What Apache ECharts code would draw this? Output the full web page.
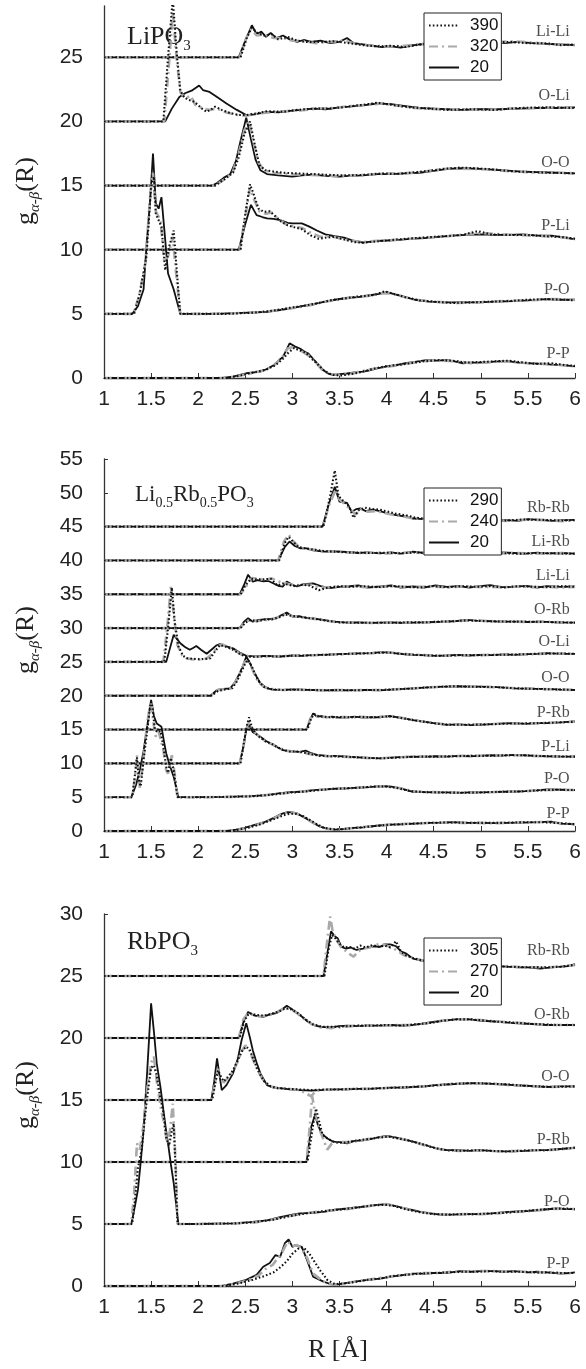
<!DOCTYPE html>
<html><head><meta charset="utf-8">
<script src="https://cdn.jsdelivr.net/npm/echarts@6/dist/echarts.min.js"></script>
<style>html,body{margin:0;padding:0;background:#fff}#c{width:586px;height:1369px}</style>
</head><body><div id="c"></div>
<script>
// ---------------- axes / ticks ----------------
const xTicks = [1,1.5,2,2.5,3,3.5,4,4.5,5,5.5,6];
const yTicksLiPO3 = [0,5,10,15,20,25];
const yTicksMixed = [0,5,10,15,20,25,30,35,40,45,50,55];
const yTicksRbPO3 = [0,5,10,15,20,25,30];

// ---------------- Panel 1: LiPO3 ----------------
const LiPO3_pairs = ['Li-Li','O-Li','O-O','P-Li','P-O','P-P'];
const LiPO3_temps = ['390','320','20'];
const LiPO3_labelY = [27.0,22.0,16.8,11.9,6.9,1.9];

const LiPO3_LiLi_390 = [[1,25],[2.45,25],[2.52,26.6],[2.57,27.3],[2.63,26.9],[2.7,26.7],[2.78,26.8],[2.85,26.4],[2.95,26.6],[3.05,26.3],[3.15,26.2],[3.3,26.2],[3.45,26.25],[3.6,26.1],[3.75,25.95],[3.9,25.85],[4.05,25.9],[4.2,25.8],[4.35,26.0],[4.55,26.15],[4.8,26.05],[5.05,26.15],[5.3,26.2],[5.5,26.1],[5.7,26.1],[5.85,25.95],[6,26.0]];
const LiPO3_LiLi_320 = [[1,25],[2.44,25],[2.51,26.5],[2.56,27.2],[2.62,26.7],[2.7,26.8],[2.8,26.5],[2.9,26.5],[3.0,26.3],[3.12,26.25],[3.25,26.1],[3.4,26.2],[3.55,26.3],[3.7,26.0],[3.85,25.9],[4.0,25.85],[4.2,25.9],[4.4,26.05],[4.6,26.1],[4.85,26.0],[5.1,26.15],[5.35,26.25],[5.55,26.15],[5.75,26.0],[6,25.95]];
const LiPO3_LiLi_20 = [[1,25],[2.43,25],[2.5,26.3],[2.57,27.5],[2.62,26.8],[2.67,27.0],[2.72,26.6],[2.77,26.9],[2.83,26.5],[2.9,26.7],[2.97,26.4],[3.05,26.2],[3.12,26.35],[3.2,26.2],[3.3,26.3],[3.4,26.1],[3.5,26.2],[3.58,26.5],[3.65,26.1],[3.75,26.0],[3.85,25.9],[3.95,25.8],[4.05,25.85],[4.15,25.75],[4.25,25.9],[4.35,26.0],[4.5,26.1],[4.7,26.0],[4.9,26.1],[5.1,26.2],[5.25,26.1],[5.4,26.2],[5.55,26.1],[5.7,26.05],[5.85,26.0],[6,25.95]];

const LiPO3_OLi_390 = [[1,20],[1.63,20],[1.68,25],[1.73,29.6],[1.77,25.5],[1.81,22.4],[1.85,21.9],[1.89,21.7],[1.94,21.6],[1.98,21.4],[2.04,21.0],[2.09,20.75],[2.14,20.95],[2.18,21.15],[2.25,20.9],[2.34,20.65],[2.43,20.5],[2.51,20.5],[2.6,20.6],[2.73,20.8],[2.9,20.75],[3.05,20.9],[3.22,21.0],[3.4,21.0],[3.58,21.15],[3.75,21.3],[3.9,21.45],[4.05,21.3],[4.25,21.1],[4.45,21.0],[4.65,20.9],[4.9,20.95],[5.15,20.9],[5.4,21.05],[5.7,21.1],[6,21.05]];
const LiPO3_OLi_320 = [[1,20],[1.64,20],[1.69,24.5],[1.73,28.5],[1.77,25],[1.81,22.3],[1.86,21.8],[1.92,22.0],[1.97,21.3],[2.05,21.0],[2.12,20.9],[2.2,21.0],[2.3,20.7],[2.42,20.5],[2.51,20.45],[2.62,20.6],[2.75,20.7],[2.9,20.8],[3.08,20.85],[3.25,21.0],[3.45,21.05],[3.62,21.2],[3.8,21.3],[3.95,21.4],[4.1,21.25],[4.3,21.05],[4.55,20.95],[4.8,20.95],[5.05,20.9],[5.3,21.0],[5.6,21.05],[5.85,21.1],[6,21.05]];
const LiPO3_OLi_20 = [[1,20],[1.65,20],[1.72,21.0],[1.8,21.9],[1.86,22.2],[1.93,22.4],[2.01,22.8],[2.05,22.45],[2.12,22.3],[2.2,21.9],[2.3,21.4],[2.41,20.9],[2.51,20.5],[2.6,20.55],[2.73,20.75],[2.85,20.7],[3.0,20.85],[3.1,20.9],[3.22,21.0],[3.35,20.95],[3.5,21.1],[3.6,21.15],[3.75,21.25],[3.9,21.4],[4.05,21.35],[4.2,21.2],[4.35,21.05],[4.5,21.0],[4.65,20.95],[4.8,20.9],[5.0,20.95],[5.2,20.95],[5.4,21.0],[5.6,21.05],[5.8,21.05],[6,21.1]];

const LiPO3_OO_390 = [[1,15],[2.18,15],[2.24,15.3],[2.3,15.6],[2.37,16.0],[2.43,17.2],[2.49,19.0],[2.55,20.0],[2.6,18.2],[2.65,16.6],[2.71,16.2],[2.8,16.1],[2.9,16.0],[3.05,15.95],[3.2,15.9],[3.35,15.85],[3.5,15.8],[3.65,15.8],[3.8,15.85],[3.95,15.95],[4.1,15.9],[4.25,16.0],[4.45,16.15],[4.6,16.3],[4.78,16.4],[4.95,16.35],[5.15,16.25],[5.35,16.1],[5.55,16.05],[5.75,16.0],[6,15.95]];
const LiPO3_OO_320 = [[1,15],[2.17,15],[2.23,15.25],[2.3,15.6],[2.37,16.1],[2.43,17.5],[2.49,19.3],[2.54,20.0],[2.59,18.3],[2.64,16.8],[2.7,16.2],[2.8,16.0],[2.95,15.9],[3.1,15.85],[3.3,15.8],[3.5,15.75],[3.7,15.8],[3.9,15.9],[4.1,15.95],[4.3,16.0],[4.5,16.2],[4.7,16.35],[4.9,16.3],[5.1,16.25],[5.35,16.1],[5.6,16.0],[5.85,16.0],[6,15.95]];
const LiPO3_OO_20 = [[1,15],[2.15,15],[2.2,15.2],[2.27,15.6],[2.34,15.9],[2.4,16.9],[2.45,18.5],[2.51,20.3],[2.56,18.6],[2.61,17.0],[2.66,16.2],[2.73,15.9],[2.85,15.8],[3.0,15.7],[3.1,15.8],[3.22,15.85],[3.35,15.75],[3.5,15.7],[3.6,15.75],[3.75,15.8],[3.9,15.9],[4.05,15.9],[4.2,15.95],[4.35,16.0],[4.5,16.15],[4.65,16.3],[4.8,16.35],[5.0,16.3],[5.2,16.2],[5.4,16.1],[5.6,16.05],[5.8,16.0],[6,15.95]];

const LiPO3_PLi_390 = [[1,10],[2.45,10],[2.5,12.8],[2.55,15.1],[2.59,14.3],[2.64,13.2],[2.7,12.95],[2.76,13.0],[2.82,12.6],[2.88,12.2],[2.95,11.9],[3.02,11.75],[3.1,11.6],[3.2,11.1],[3.28,10.85],[3.36,10.95],[3.45,11.0],[3.55,10.8],[3.65,10.6],[3.75,10.55],[3.9,10.65],[4.05,10.75],[4.2,10.85],[4.4,10.95],[4.6,11.05],[4.8,11.15],[4.97,11.45],[5.1,11.2],[5.3,11.15],[5.5,11.15],[5.7,11.05],[5.85,11.0],[6,10.85]];
const LiPO3_PLi_320 = [[1,10],[2.44,10],[2.5,12.6],[2.55,14.8],[2.6,13.8],[2.65,13.0],[2.72,12.8],[2.78,12.9],[2.85,12.4],[2.93,12.0],[3.0,11.85],[3.1,11.7],[3.2,11.3],[3.3,11.0],[3.4,11.05],[3.5,10.9],[3.62,10.7],[3.75,10.6],[3.9,10.7],[4.05,10.75],[4.25,10.85],[4.45,10.95],[4.65,11.05],[4.85,11.2],[5.0,11.3],[5.2,11.2],[5.4,11.15],[5.6,11.1],[5.8,11.0],[6,10.85]];
const LiPO3_PLi_20 = [[1,10],[2.43,10],[2.5,12.0],[2.56,13.5],[2.62,12.7],[2.68,12.55],[2.73,12.45],[2.8,12.4],[2.87,12.3],[2.95,12.1],[3.0,12.05],[3.1,12.05],[3.18,11.8],[3.26,11.5],[3.35,11.2],[3.45,11.05],[3.55,10.95],[3.65,10.7],[3.75,10.55],[3.85,10.65],[3.95,10.7],[4.1,10.75],[4.25,10.85],[4.4,10.9],[4.55,11.0],[4.7,11.1],[4.85,11.15],[5.0,11.2],[5.15,11.15],[5.3,11.15],[5.45,11.2],[5.6,11.1],[5.75,11.1],[5.9,10.95],[6,10.8]];

const LiPO3_PO_390 = [[1,5],[1.32,5],[1.38,6.6],[1.45,9.45],[1.5,14.9],[1.53,15.7],[1.55,12.8],[1.61,11.8],[1.65,8.4],[1.69,10.2],[1.74,11.5],[1.78,7.65],[1.81,5],[2.0,5],[2.3,5.0],[2.6,5.1],[2.8,5.25],[2.95,5.45],[3.1,5.6],[3.25,5.8],[3.4,6.05],[3.55,6.2],[3.7,6.35],[3.85,6.45],[3.98,6.75],[4.08,6.55],[4.2,6.3],[4.35,6.05],[4.5,5.95],[4.7,5.85],[4.9,5.9],[5.1,5.95],[5.3,6.0],[5.5,6.1],[5.7,6.15],[5.9,6.1],[6,6.05]];
const LiPO3_PO_320 = [[1,5],[1.31,5],[1.37,6.3],[1.44,9.0],[1.49,14.2],[1.52,16.0],[1.55,13.0],[1.6,12.3],[1.64,9.0],[1.68,9.5],[1.73,11.0],[1.77,7.8],[1.81,5],[2.1,5],[2.4,5.05],[2.7,5.15],[2.9,5.35],[3.05,5.5],[3.2,5.7],[3.35,5.95],[3.5,6.15],[3.65,6.3],[3.8,6.4],[3.95,6.6],[4.05,6.6],[4.15,6.4],[4.3,6.1],[4.5,5.95],[4.75,5.85],[5.0,5.9],[5.25,6.0],[5.5,6.05],[5.75,6.15],[6,6.1]];
const LiPO3_PO_20 = [[1,5],[1.3,5],[1.36,5.6],[1.42,6.9],[1.45,10.2],[1.49,13.9],[1.52,17.5],[1.55,13.6],[1.58,13.2],[1.61,14.1],[1.65,10.75],[1.68,8.15],[1.74,6.9],[1.81,5],[2.0,5],[2.2,5.0],[2.37,5.05],[2.55,5.1],[2.73,5.15],[2.87,5.3],[3.0,5.45],[3.1,5.6],[3.22,5.75],[3.35,5.95],[3.45,6.1],[3.58,6.25],[3.7,6.3],[3.82,6.45],[3.92,6.55],[4.0,6.7],[4.1,6.5],[4.2,6.3],[4.3,6.1],[4.45,5.95],[4.64,5.9],[4.8,5.9],[4.99,5.9],[5.15,5.95],[5.35,6.0],[5.5,6.05],[5.7,6.15],[5.85,6.1],[6,6.1]];

const LiPO3_PP_390 = [[1,0],[2.3,0],[2.45,0.2],[2.6,0.45],[2.72,0.65],[2.82,1.0],[2.9,1.5],[2.96,2.0],[3.02,2.35],[3.08,2.15],[3.14,2.0],[3.2,1.55],[3.27,1.05],[3.34,0.55],[3.42,0.25],[3.52,0.2],[3.62,0.3],[3.72,0.45],[3.85,0.7],[3.98,0.9],[4.1,1.0],[4.25,1.15],[4.4,1.3],[4.55,1.4],[4.7,1.35],[4.85,1.2],[5.0,1.25],[5.15,1.3],[5.3,1.35],[5.45,1.2],[5.6,1.1],[5.75,1.15],[5.9,1.0],[6,0.95]];
const LiPO3_PP_320 = [[1,0],[2.28,0],[2.42,0.15],[2.58,0.4],[2.7,0.6],[2.8,0.95],[2.88,1.5],[2.95,2.3],[3.0,2.4],[3.06,2.2],[3.12,2.0],[3.18,1.7],[3.25,1.2],[3.32,0.6],[3.4,0.3],[3.5,0.25],[3.6,0.3],[3.72,0.5],[3.85,0.7],[3.98,0.85],[4.12,1.0],[4.28,1.2],[4.45,1.35],[4.6,1.35],[4.75,1.3],[4.9,1.15],[5.05,1.2],[5.2,1.3],[5.35,1.25],[5.5,1.15],[5.65,1.1],[5.8,1.05],[6,0.9]];
const LiPO3_PP_20 = [[1,0],[2.25,0],[2.37,0.1],[2.51,0.37],[2.66,0.5],[2.73,0.7],[2.8,1.0],[2.86,1.4],[2.9,1.65],[2.97,2.7],[3.03,2.45],[3.08,2.3],[3.13,2.05],[3.17,1.9],[3.22,1.5],[3.28,1.0],[3.33,0.6],[3.38,0.35],[3.43,0.25],[3.5,0.3],[3.58,0.35],[3.68,0.45],[3.75,0.5],[3.82,0.6],[3.9,0.75],[4.0,0.9],[4.1,1.0],[4.2,1.15],[4.3,1.25],[4.42,1.4],[4.53,1.35],[4.64,1.4],[4.72,1.3],[4.81,1.15],[4.9,1.2],[4.99,1.2],[5.1,1.25],[5.2,1.3],[5.3,1.3],[5.4,1.2],[5.52,1.15],[5.65,1.1],[5.75,1.05],[5.87,1.0],[6,0.9]];

// ---------------- Panel 2: Li0.5Rb0.5PO3 ----------------
const Mixed_pairs = ['Rb-Rb','Li-Rb','Li-Li','O-Rb','O-Li','O-O','P-Rb','P-Li','P-O','P-P'];
const Mixed_temps = ['290','240','20'];
const Mixed_labelY = [47.8,42.75,37.7,32.7,28.0,22.6,17.5,12.5,7.65,2.6];

const Mixed_RbRb_290 = [[1,45],[3.33,45],[3.4,49.5],[3.45,53.3],[3.49,49.5],[3.54,48.8],[3.6,48.0],[3.65,46.3],[3.7,47.4],[3.77,47.8],[3.85,47.6],[3.93,47.5],[4.02,47.2],[4.1,46.9],[4.2,46.7],[4.3,46.35],[4.45,46.1],[4.65,46.05],[4.85,45.95],[5.05,46.0],[5.25,45.9],[5.45,46.05],[5.65,46.0],[5.85,45.9],[6,45.95]];
const Mixed_RbRb_240 = [[1,45],[3.32,45],[3.39,48.2],[3.46,50.5],[3.5,49.0],[3.56,48.3],[3.62,47.5],[3.67,46.8],[3.73,47.6],[3.8,47.2],[3.88,47.3],[3.95,47.1],[4.05,46.8],[4.15,46.6],[4.25,46.3],[4.4,46.15],[4.6,46.0],[4.85,45.95],[5.1,45.9],[5.3,45.85],[5.5,46.05],[5.7,45.95],[5.85,45.8],[6,45.95]];
const Mixed_RbRb_20 = [[1,45],[3.32,45],[3.39,48.5],[3.45,50.9],[3.5,48.7],[3.55,48.6],[3.58,48.5],[3.63,47.2],[3.68,47.6],[3.72,47.7],[3.78,47.3],[3.85,47.5],[3.93,47.3],[4.0,47.0],[4.1,46.7],[4.2,46.5],[4.28,46.2],[4.4,46.1],[4.6,46.0],[4.8,46.0],[5.0,45.95],[5.15,45.9],[5.27,45.95],[5.4,45.85],[5.5,46.1],[5.63,46.0],[5.75,45.85],[5.9,45.95],[6,46.0]];

const Mixed_LiRb_290 = [[1,40],[2.86,40],[2.92,42.6],[2.96,43.5],[3.0,42.9],[3.06,42.0],[3.14,41.8],[3.22,41.6],[3.33,41.4],[3.45,41.3],[3.58,41.2],[3.72,41.15],[3.85,41.1],[4.0,41.15],[4.15,41.05],[4.3,41.2],[4.45,41.05],[4.6,41.1],[4.75,41.0],[4.9,41.1],[5.05,41.05],[5.2,41.1],[5.4,41.0],[5.6,41.1],[5.8,41.05],[6,41.0]];
const Mixed_LiRb_240 = [[1,40],[2.85,40],[2.91,42.8],[2.96,43.8],[3.0,43.0],[3.06,42.1],[3.13,41.7],[3.22,41.6],[3.33,41.35],[3.45,41.3],[3.58,41.2],[3.72,41.1],[3.86,41.15],[4.0,41.05],[4.15,41.1],[4.3,41.2],[4.45,41.0],[4.6,41.1],[4.78,41.0],[4.95,41.1],[5.1,41.0],[5.3,41.1],[5.5,41.05],[5.7,41.0],[5.85,41.1],[6,41.05]];
const Mixed_LiRb_20 = [[1,40],[2.85,40],[2.92,42.0],[2.97,42.8],[3.02,42.2],[3.08,41.8],[3.15,41.8],[3.22,41.5],[3.33,41.3],[3.45,41.35],[3.58,41.25],[3.7,41.1],[3.8,41.2],[3.93,41.05],[4.05,41.2],[4.15,41.0],[4.28,41.3],[4.4,41.1],[4.52,41.0],[4.64,41.05],[4.75,41.15],[4.88,40.95],[4.99,41.1],[5.1,41.05],[5.22,41.2],[5.35,41.1],[5.48,41.0],[5.6,41.15],[5.7,41.05],[5.85,41.1],[6,41.0]];

const Mixed_LiLi_290 = [[1,35],[2.45,35],[2.5,36.3],[2.56,37.3],[2.62,37.2],[2.7,37.2],[2.77,37.3],[2.84,36.3],[2.9,36.6],[2.96,36.4],[3.03,36.2],[3.1,36.4],[3.18,36.3],[3.28,35.6],[3.38,36.0],[3.5,36.2],[3.62,36.1],[3.75,36.2],[3.9,36.05],[4.05,36.2],[4.2,36.1],[4.35,36.0],[4.5,36.2],[4.65,36.05],[4.8,36.2],[4.95,36.1],[5.1,36.2],[5.25,36.0],[5.4,36.2],[5.55,36.1],[5.7,36.05],[5.85,36.2],[6,36.1]];
const Mixed_LiLi_240 = [[1,35],[2.45,35],[2.51,36.2],[2.57,37.4],[2.63,37.3],[2.7,37.1],[2.78,37.35],[2.85,36.9],[2.9,36.7],[2.96,36.5],[3.03,36.3],[3.1,36.4],[3.2,36.4],[3.3,36.0],[3.4,36.05],[3.52,36.15],[3.65,36.2],[3.78,36.05],[3.92,36.1],[4.05,36.2],[4.2,36.05],[4.35,36.1],[4.5,36.15],[4.65,36.0],[4.8,36.15],[4.95,36.1],[5.1,36.1],[5.25,36.05],[5.4,36.15],[5.55,36.05],[5.7,36.1],[5.85,36.0],[6,36.1]];
const Mixed_LiLi_20 = [[1,35],[2.44,35],[2.49,36.5],[2.53,37.9],[2.58,36.85],[2.63,37.1],[2.69,36.9],[2.74,37.0],[2.8,36.6],[2.86,36.2],[2.9,36.15],[2.94,36.9],[3.0,36.4],[3.05,36.15],[3.12,36.5],[3.22,36.6],[3.3,36.2],[3.4,35.9],[3.5,36.1],[3.58,36.15],[3.7,36.3],[3.8,36.0],[3.93,36.15],[4.05,36.3],[4.15,36.0],[4.28,36.15],[4.4,36.0],[4.52,36.3],[4.64,36.1],[4.76,36.2],[4.88,36.0],[4.99,36.2],[5.1,36.35],[5.22,36.05],[5.35,36.1],[5.48,36.25],[5.6,36.0],[5.7,36.2],[5.85,36.1],[6,36.15]];

const Mixed_ORb_290 = [[1,30],[2.45,30],[2.5,30.8],[2.56,31.2],[2.62,31.0],[2.7,31.25],[2.78,31.3],[2.86,31.6],[2.92,32.0],[2.98,31.85],[3.05,31.7],[3.14,31.55],[3.25,31.35],[3.38,31.05],[3.5,30.85],[3.65,30.8],[3.8,30.8],[3.95,30.8],[4.1,30.8],[4.25,30.85],[4.4,30.85],[4.55,30.95],[4.7,31.0],[4.85,31.15],[5.0,31.05],[5.15,31.0],[5.3,30.95],[5.5,30.95],[5.7,30.9],[5.85,30.85],[6,30.8]];
const Mixed_ORb_240 = [[1,30],[2.44,30],[2.5,30.9],[2.56,31.3],[2.62,31.0],[2.7,31.2],[2.78,31.25],[2.86,31.7],[2.93,32.1],[3.0,31.8],[3.08,31.65],[3.16,31.5],[3.27,31.3],[3.4,31.0],[3.55,30.8],[3.7,30.8],[3.85,30.75],[4.0,30.8],[4.15,30.8],[4.3,30.85],[4.45,30.85],[4.6,30.95],[4.75,31.05],[4.88,31.15],[5.0,31.1],[5.15,31.0],[5.3,30.95],[5.5,30.9],[5.7,30.95],[5.85,30.85],[6,30.8]];
const Mixed_ORb_20 = [[1,30],[2.44,30],[2.49,31.0],[2.53,31.45],[2.58,30.95],[2.64,31.2],[2.7,31.3],[2.77,31.35],[2.83,31.45],[2.88,31.9],[2.94,32.3],[3.0,31.7],[3.08,31.75],[3.15,31.5],[3.22,31.45],[3.32,31.2],[3.45,30.95],[3.58,30.8],[3.7,30.85],[3.82,30.75],[3.93,30.8],[4.05,30.85],[4.18,30.75],[4.28,30.8],[4.4,30.85],[4.52,30.9],[4.64,30.95],[4.75,31.05],[4.85,31.2],[4.95,31.1],[5.05,31.05],[5.2,30.95],[5.35,30.95],[5.5,30.9],[5.65,30.95],[5.8,30.85],[6,30.8]];

const Mixed_OLi_290 = [[1,25],[1.64,25],[1.68,30],[1.72,36.0],[1.75,31],[1.79,27.3],[1.84,25.9],[1.88,25.55],[1.95,25.45],[2.02,25.4],[2.08,25.45],[2.13,25.55],[2.18,26.6],[2.23,27.5],[2.3,27.2],[2.37,26.8],[2.44,26.2],[2.5,25.8],[2.6,25.75],[2.73,25.85],[2.87,25.8],[3.0,25.9],[3.15,25.95],[3.3,26.05],[3.45,26.1],[3.6,26.2],[3.75,26.25],[3.9,26.35],[4.02,26.4],[4.15,26.2],[4.3,26.05],[4.45,25.95],[4.6,25.9],[4.8,26.0],[5.0,26.0],[5.2,26.05],[5.4,26.1],[5.6,26.2],[5.8,26.25],[6,26.2]];
const Mixed_OLi_240 = [[1,25],[1.63,25],[1.67,30],[1.71,36.1],[1.74,32],[1.78,27.5],[1.83,26.0],[1.88,25.5],[1.95,25.35],[2.02,25.35],[2.09,25.5],[2.15,26.2],[2.2,27.2],[2.25,27.6],[2.32,27.2],[2.4,26.6],[2.47,26.0],[2.55,25.8],[2.65,25.8],[2.8,25.8],[2.95,25.9],[3.1,25.95],[3.25,26.0],[3.4,26.1],[3.55,26.15],[3.7,26.25],[3.85,26.3],[4.0,26.4],[4.12,26.3],[4.25,26.1],[4.4,26.0],[4.55,25.9],[4.75,25.95],[4.95,26.0],[5.15,26.05],[5.35,26.1],[5.55,26.15],[5.75,26.25],[6,26.2]];
const Mixed_OLi_20 = [[1,25],[1.66,25],[1.7,27.0],[1.74,29.0],[1.78,28.3],[1.81,27.75],[1.86,27.2],[1.91,26.8],[1.95,27.1],[1.98,27.35],[2.03,26.8],[2.09,26.2],[2.14,26.8],[2.19,27.4],[2.23,27.65],[2.3,27.3],[2.37,27.0],[2.44,26.4],[2.51,25.9],[2.6,25.85],[2.73,25.9],[2.87,25.8],[3.0,25.95],[3.1,25.9],[3.22,26.05],[3.35,26.05],[3.45,26.15],[3.58,26.2],[3.7,26.25],[3.82,26.3],[3.92,26.4],[4.0,26.4],[4.1,26.25],[4.2,26.1],[4.28,26.05],[4.4,26.0],[4.52,25.9],[4.64,25.95],[4.76,26.05],[4.88,25.95],[4.99,26.05],[5.12,26.0],[5.25,26.1],[5.35,26.05],[5.5,26.15],[5.6,26.2],[5.7,26.3],[5.85,26.2],[6,26.2]];

const Mixed_OO_290 = [[1,20],[2.14,20],[2.21,20.7],[2.29,20.95],[2.36,21.1],[2.41,22.1],[2.46,23.6],[2.5,24.8],[2.53,25.3],[2.57,24.3],[2.61,23.0],[2.65,22.0],[2.7,21.3],[2.78,20.95],[2.9,20.85],[3.05,20.9],[3.2,20.85],[3.35,20.8],[3.5,20.85],[3.65,20.8],[3.8,20.85],[3.95,20.85],[4.1,20.95],[4.25,21.05],[4.4,21.2],[4.55,21.3],[4.7,21.4],[4.85,21.35],[5.0,21.3],[5.15,21.3],[5.3,21.15],[5.45,21.05],[5.6,21.0],[5.75,20.95],[5.9,20.9],[6,20.85]];
const Mixed_OO_240 = [[1,20],[2.13,20],[2.2,20.8],[2.28,21.0],[2.35,21.1],[2.4,22.1],[2.45,23.5],[2.49,24.9],[2.52,25.4],[2.56,24.4],[2.6,23.1],[2.64,22.0],[2.7,21.3],[2.78,21.0],[2.9,20.85],[3.05,20.9],[3.2,20.85],[3.35,20.8],[3.5,20.85],[3.65,20.8],[3.8,20.85],[3.95,20.85],[4.1,20.95],[4.25,21.05],[4.4,21.2],[4.55,21.3],[4.7,21.4],[4.85,21.35],[5.0,21.35],[5.15,21.25],[5.3,21.15],[5.45,21.1],[5.6,21.0],[5.75,20.95],[5.9,20.9],[6,20.85]];
const Mixed_OO_20 = [[1,20],[2.13,20],[2.2,20.85],[2.27,21.0],[2.34,21.1],[2.39,22.0],[2.44,23.3],[2.48,24.6],[2.51,25.8],[2.55,24.8],[2.58,23.8],[2.62,22.8],[2.66,21.85],[2.73,21.1],[2.8,20.9],[2.9,20.85],[3.0,20.95],[3.1,20.9],[3.22,20.85],[3.35,20.8],[3.45,20.85],[3.58,20.8],[3.7,20.85],[3.82,20.85],[3.93,20.8],[4.05,20.9],[4.18,21.0],[4.28,21.1],[4.4,21.2],[4.52,21.3],[4.64,21.35],[4.76,21.4],[4.88,21.35],[4.99,21.35],[5.12,21.3],[5.25,21.2],[5.35,21.1],[5.5,21.05],[5.6,21.0],[5.7,21.0],[5.85,20.9],[6,20.85]];

const Mixed_PRb_290 = [[1,15],[3.16,15],[3.2,16.7],[3.23,17.3],[3.28,16.95],[3.34,16.9],[3.42,16.8],[3.52,16.85],[3.62,16.8],[3.72,16.9],[3.82,16.8],[3.92,16.85],[4.02,16.95],[4.1,16.85],[4.2,16.6],[4.3,16.35],[4.42,16.1],[4.55,15.85],[4.7,15.7],[4.85,15.7],[5.0,15.75],[5.15,15.8],[5.3,15.9],[5.45,15.9],[5.6,15.95],[5.75,16.0],[5.9,16.1],[6,16.15]];
const Mixed_PRb_240 = [[1,15],[3.15,15],[3.19,16.6],[3.23,17.2],[3.28,16.9],[3.35,16.85],[3.45,16.8],[3.55,16.85],[3.65,16.8],[3.75,16.85],[3.85,16.8],[3.95,16.9],[4.05,16.95],[4.15,16.75],[4.25,16.5],[4.35,16.25],[4.48,16.0],[4.62,15.75],[4.78,15.7],[4.92,15.75],[5.08,15.8],[5.22,15.85],[5.38,15.9],[5.52,15.9],[5.68,15.95],[5.82,16.05],[6,16.15]];
const Mixed_PRb_20 = [[1,15],[3.15,15],[3.19,16.5],[3.22,17.4],[3.26,16.9],[3.3,17.0],[3.36,16.8],[3.42,16.9],[3.5,16.75],[3.58,16.8],[3.66,16.9],[3.75,16.75],[3.85,16.85],[3.93,16.8],[4.0,16.95],[4.04,17.0],[4.12,16.8],[4.2,16.6],[4.28,16.4],[4.38,16.2],[4.5,15.95],[4.64,15.7],[4.76,15.75],[4.88,15.65],[4.99,15.7],[5.12,15.8],[5.25,15.9],[5.35,15.95],[5.48,15.85],[5.6,15.95],[5.7,15.95],[5.85,16.05],[6,16.2]];

const Mixed_PLi_290 = [[1,10],[2.45,10],[2.49,13.5],[2.52,15.8],[2.54,16.8],[2.57,15.3],[2.61,14.4],[2.66,13.8],[2.72,13.2],[2.78,12.9],[2.84,12.4],[2.9,12.0],[2.97,11.75],[3.05,11.75],[3.12,11.6],[3.2,11.35],[3.3,11.1],[3.42,11.05],[3.55,11.0],[3.68,10.9],[3.8,10.8],[3.95,10.75],[4.1,10.85],[4.25,10.95],[4.4,11.0],[4.55,11.0],[4.7,11.05],[4.85,11.1],[5.0,11.1],[5.15,11.15],[5.3,11.2],[5.45,11.2],[5.6,11.1],[5.75,11.05],[5.9,11.0],[6,11.0]];
const Mixed_PLi_240 = [[1,10],[2.44,10],[2.49,13.2],[2.52,15.5],[2.54,16.2],[2.58,15.0],[2.62,14.3],[2.67,13.7],[2.73,13.1],[2.8,12.75],[2.87,12.2],[2.94,11.85],[3.02,11.75],[3.1,11.65],[3.18,11.4],[3.28,11.15],[3.4,11.05],[3.52,11.0],[3.65,10.9],[3.78,10.8],[3.92,10.75],[4.06,10.85],[4.2,10.95],[4.35,11.0],[4.5,11.0],[4.65,11.05],[4.8,11.1],[4.95,11.1],[5.1,11.15],[5.25,11.2],[5.4,11.2],[5.55,11.1],[5.7,11.05],[5.85,11.0],[6,11.0]];
const Mixed_PLi_20 = [[1,10],[2.44,10],[2.48,12.5],[2.51,14.95],[2.54,15.7],[2.58,14.6],[2.62,14.3],[2.66,13.95],[2.72,13.3],[2.8,12.7],[2.85,12.3],[2.9,11.95],[2.96,11.8],[3.02,11.75],[3.08,11.7],[3.14,11.9],[3.2,11.5],[3.26,11.25],[3.35,11.15],[3.45,11.1],[3.58,11.0],[3.7,10.9],[3.82,10.8],[3.93,10.75],[4.05,10.85],[4.18,10.95],[4.28,11.0],[4.4,10.95],[4.52,11.05],[4.64,11.0],[4.76,11.1],[4.88,11.05],[4.99,11.1],[5.1,11.2],[5.22,11.15],[5.35,11.25],[5.45,11.2],[5.58,11.1],[5.7,11.05],[5.85,11.0],[6,11.0]];

const Mixed_PO_290 = [[1,5],[1.3,5],[1.33,8.5],[1.35,10.9],[1.37,7.5],[1.39,6.6],[1.42,10.5],[1.46,15.0],[1.49,18.5],[1.51,18.8],[1.54,15.0],[1.57,14.6],[1.6,14.8],[1.63,12.5],[1.66,9.5],[1.68,8.6],[1.71,10.8],[1.74,9.0],[1.78,5],[2.0,5],[2.35,5.05],[2.6,5.15],[2.8,5.4],[2.95,5.65],[3.1,5.8],[3.25,6.0],[3.4,6.2],[3.55,6.3],[3.7,6.4],[3.85,6.55],[3.98,6.6],[4.1,6.4],[4.25,5.9],[4.4,5.75],[4.6,5.7],[4.8,5.65],[5.0,5.7],[5.2,5.8],[5.4,5.85],[5.6,6.0],[5.8,6.1],[6,6.05]];
const Mixed_PO_240 = [[1,5],[1.3,5],[1.33,8.0],[1.35,11.2],[1.37,7.8],[1.38,6.4],[1.41,9.5],[1.45,14.8],[1.48,18.0],[1.5,19.0],[1.53,15.5],[1.55,13.95],[1.58,14.7],[1.6,14.5],[1.63,12.0],[1.66,9.0],[1.68,8.5],[1.72,11.2],[1.75,8.5],[1.78,5],[2.1,5],[2.4,5.05],[2.65,5.2],[2.85,5.5],[3.0,5.7],[3.15,5.9],[3.3,6.1],[3.45,6.25],[3.6,6.3],[3.75,6.45],[3.9,6.6],[4.02,6.6],[4.15,6.3],[4.3,5.85],[4.45,5.75],[4.65,5.7],[4.85,5.65],[5.05,5.7],[5.25,5.8],[5.45,5.85],[5.65,6.05],[5.85,6.1],[6,6.05]];
const Mixed_PO_20 = [[1,5],[1.29,5],[1.34,6.8],[1.38,9.0],[1.42,11.8],[1.45,14.7],[1.48,17.5],[1.5,19.4],[1.53,17.0],[1.56,15.9],[1.58,16.0],[1.61,15.4],[1.64,13.0],[1.66,11.5],[1.7,9.6],[1.74,8.0],[1.79,5],[2.0,5],[2.3,5.05],[2.55,5.15],[2.73,5.3],[2.87,5.6],[2.98,5.75],[3.08,5.8],[3.22,6.05],[3.35,6.15],[3.45,6.25],[3.58,6.3],[3.7,6.4],[3.82,6.5],[3.93,6.65],[4.05,6.55],[4.15,6.3],[4.28,5.8],[4.4,5.75],[4.52,5.7],[4.64,5.7],[4.76,5.65],[4.88,5.7],[4.99,5.7],[5.12,5.75],[5.25,5.8],[5.35,5.8],[5.48,5.9],[5.6,6.0],[5.7,6.15],[5.85,6.1],[6,6.05]];

const Mixed_PP_290 = [[1,0],[2.35,0],[2.45,0.25],[2.55,0.55],[2.65,0.95],[2.75,1.45],[2.83,1.9],[2.9,2.3],[2.97,2.55],[3.03,2.55],[3.1,2.3],[3.17,1.75],[3.25,1.1],[3.33,0.5],[3.42,0.25],[3.52,0.25],[3.62,0.4],[3.75,0.55],[3.88,0.75],[4.0,0.9],[4.15,1.0],[4.3,1.1],[4.45,1.2],[4.6,1.25],[4.75,1.25],[4.9,1.2],[5.05,1.2],[5.2,1.2],[5.35,1.25],[5.5,1.3],[5.65,1.3],[5.8,1.2],[6,1.0]];
const Mixed_PP_240 = [[1,0],[2.32,0],[2.42,0.2],[2.52,0.5],[2.62,0.9],[2.72,1.35],[2.8,1.85],[2.88,2.4],[2.94,2.75],[3.0,2.7],[3.06,2.5],[3.12,2.1],[3.2,1.4],[3.28,0.75],[3.36,0.35],[3.45,0.2],[3.55,0.3],[3.68,0.5],[3.8,0.65],[3.92,0.8],[4.05,0.95],[4.2,1.05],[4.35,1.15],[4.5,1.2],[4.65,1.25],[4.8,1.2],[4.95,1.2],[5.1,1.15],[5.25,1.2],[5.4,1.25],[5.55,1.3],[5.7,1.35],[5.85,1.15],[6,1.0]];
const Mixed_PP_20 = [[1,0],[2.3,0],[2.4,0.2],[2.5,0.5],[2.6,0.9],[2.7,1.3],[2.78,1.8],[2.85,2.3],[2.9,2.6],[2.95,2.8],[3.0,2.75],[3.05,2.6],[3.1,2.2],[3.15,1.8],[3.22,1.2],[3.3,0.6],[3.38,0.3],[3.45,0.2],[3.55,0.3],[3.65,0.45],[3.75,0.55],[3.85,0.7],[3.95,0.85],[4.05,0.95],[4.15,1.0],[4.3,1.1],[4.45,1.2],[4.6,1.25],[4.7,1.3],[4.85,1.2],[5.0,1.2],[5.15,1.15],[5.3,1.2],[5.45,1.25],[5.6,1.3],[5.75,1.4],[5.85,1.1],[6,1.0]];

// ---------------- Panel 3: RbPO3 ----------------
const RbPO3_pairs = ['Rb-Rb','O-Rb','O-O','P-Rb','P-O','P-P'];
const RbPO3_temps = ['305','270','20'];
const RbPO3_labelY = [27.0,21.85,16.9,11.8,6.8,1.8];

const RbPO3_RbRb_305 = [[1,25],[3.34,25],[3.38,27.0],[3.42,28.3],[3.46,28.0],[3.5,27.6],[3.55,27.3],[3.6,27.35],[3.66,27.2],[3.72,27.45],[3.78,27.3],[3.85,27.5],[3.92,27.35],[3.98,27.45],[4.04,27.3],[4.1,27.8],[4.15,27.0],[4.2,26.7],[4.26,26.5],[4.35,26.3],[4.5,26.1],[4.7,25.95],[4.9,25.85],[5.1,25.8],[5.3,25.75],[5.5,25.7],[5.7,25.7],[5.85,25.75],[6,25.9]];
const RbPO3_RbRb_270 = [[1,25],[3.33,25],[3.36,27.2],[3.4,29.8],[3.43,28.5],[3.47,27.9],[3.52,27.3],[3.57,27.0],[3.62,26.7],[3.65,26.55],[3.7,27.0],[3.75,27.2],[3.82,27.3],[3.88,27.5],[3.94,27.6],[4.0,27.45],[4.06,27.3],[4.12,27.0],[4.18,26.7],[4.25,26.5],[4.35,26.3],[4.5,26.1],[4.7,25.95],[4.9,25.85],[5.1,25.8],[5.3,25.75],[5.5,25.7],[5.7,25.7],[5.85,25.75],[6,25.9]];
const RbPO3_RbRb_20 = [[1,25],[3.33,25],[3.37,26.8],[3.41,28.6],[3.45,28.2],[3.48,28.05],[3.52,27.35],[3.57,27.2],[3.62,27.3],[3.68,27.1],[3.75,27.2],[3.82,27.35],[3.88,27.4],[3.93,27.35],[3.98,27.55],[4.04,27.55],[4.1,27.4],[4.15,27.0],[4.21,26.8],[4.28,26.4],[4.4,26.2],[4.6,26.0],[4.8,25.9],[5.0,25.8],[5.15,25.8],[5.27,25.75],[5.4,25.7],[5.5,25.7],[5.63,25.6],[5.75,25.7],[5.85,25.75],[5.93,25.8],[6,25.95]];

const RbPO3_ORb_305 = [[1,20],[2.44,20],[2.49,21.4],[2.54,22.0],[2.62,21.85],[2.7,21.8],[2.78,21.95],[2.86,22.15],[2.93,22.4],[2.99,22.3],[3.06,22.0],[3.14,21.5],[3.22,21.1],[3.32,20.9],[3.45,20.9],[3.58,20.95],[3.72,21.0],[3.86,21.0],[4.0,21.05],[4.15,21.0],[4.3,21.1],[4.45,21.2],[4.6,21.4],[4.75,21.5],[4.9,21.5],[5.05,21.4],[5.2,21.3],[5.35,21.25],[5.5,21.15],[5.65,21.1],[5.8,21.05],[6,21.05]];
const RbPO3_ORb_270 = [[1,20],[2.43,20],[2.48,21.5],[2.53,22.0],[2.6,21.8],[2.68,21.75],[2.76,21.85],[2.84,22.1],[2.91,22.4],[2.98,22.35],[3.05,22.0],[3.12,21.55],[3.2,21.15],[3.3,20.85],[3.42,20.8],[3.55,20.9],[3.68,21.0],[3.82,21.0],[3.96,21.0],[4.1,21.05],[4.25,21.05],[4.4,21.15],[4.55,21.35],[4.7,21.5],[4.85,21.5],[5.0,21.45],[5.15,21.35],[5.3,21.25],[5.45,21.2],[5.6,21.1],[5.75,21.05],[6,21.05]];
const RbPO3_ORb_20 = [[1,20],[2.43,20],[2.48,21.3],[2.53,22.1],[2.6,21.8],[2.69,21.7],[2.76,21.9],[2.83,22.0],[2.89,22.3],[2.94,22.6],[3.0,22.3],[3.08,21.85],[3.15,21.4],[3.22,21.05],[3.3,20.9],[3.4,20.85],[3.5,20.95],[3.58,21.0],[3.7,20.95],[3.8,21.0],[3.93,21.0],[4.05,21.05],[4.18,21.0],[4.28,21.05],[4.38,21.15],[4.46,21.25],[4.56,21.35],[4.66,21.45],[4.78,21.55],[4.88,21.5],[4.99,21.4],[5.1,21.35],[5.2,21.3],[5.35,21.2],[5.5,21.15],[5.6,21.1],[5.7,21.05],[5.85,21.05],[6,21.05]];

const RbPO3_OO_305 = [[1,15],[2.15,15],[2.18,16.3],[2.21,17.4],[2.24,16.9],[2.27,16.5],[2.32,16.9],[2.37,17.4],[2.42,18.2],[2.47,19.0],[2.51,19.3],[2.55,19.0],[2.59,18.2],[2.64,17.3],[2.7,16.5],[2.77,16.1],[2.85,15.95],[2.95,15.9],[3.08,15.85],[3.2,15.8],[3.35,15.85],[3.5,15.85],[3.65,15.9],[3.8,15.9],[3.95,15.95],[4.1,16.0],[4.25,16.05],[4.4,16.1],[4.55,16.2],[4.7,16.3],[4.85,16.35],[5.0,16.35],[5.15,16.3],[5.3,16.25],[5.45,16.15],[5.6,16.1],[5.75,16.05],[6,16.1]];
const RbPO3_OO_270 = [[1,15],[2.14,15],[2.18,16.4],[2.21,17.5],[2.24,16.8],[2.27,16.4],[2.32,16.8],[2.37,17.3],[2.42,18.1],[2.46,18.9],[2.5,19.4],[2.54,19.1],[2.58,18.3],[2.63,17.4],[2.69,16.6],[2.76,16.1],[2.85,15.95],[2.95,15.9],[3.08,15.8],[3.2,15.3],[3.25,15.75],[3.38,15.85],[3.52,15.85],[3.66,15.9],[3.8,15.9],[3.95,15.95],[4.1,16.0],[4.25,16.05],[4.4,16.1],[4.55,16.2],[4.7,16.3],[4.85,16.35],[5.0,16.35],[5.15,16.3],[5.3,16.2],[5.45,16.15],[5.6,16.1],[5.75,16.05],[6,16.1]];
const RbPO3_OO_20 = [[1,15],[2.14,15],[2.17,16.5],[2.2,18.35],[2.23,16.8],[2.25,15.8],[2.3,16.2],[2.37,17.15],[2.42,18.3],[2.46,19.8],[2.51,21.2],[2.55,20.0],[2.58,19.0],[2.62,18.0],[2.66,17.15],[2.73,16.2],[2.8,16.0],[2.87,15.95],[2.97,15.85],[3.08,15.8],[3.2,15.75],[3.3,15.8],[3.45,15.85],[3.58,15.85],[3.7,15.9],[3.82,15.9],[3.93,15.95],[4.05,16.0],[4.18,16.0],[4.28,16.05],[4.4,16.1],[4.52,16.2],[4.64,16.25],[4.76,16.3],[4.88,16.35],[4.99,16.35],[5.12,16.3],[5.25,16.25],[5.35,16.2],[5.48,16.15],[5.6,16.1],[5.7,16.05],[5.85,16.1],[6,16.1]];

const RbPO3_PRb_305 = [[1,10],[3.16,10],[3.2,12.0],[3.23,13.5],[3.25,14.3],[3.28,13.4],[3.32,12.2],[3.38,11.85],[3.45,11.6],[3.55,11.55],[3.65,11.7],[3.75,11.8],[3.85,11.9],[3.95,12.0],[4.02,12.05],[4.12,11.9],[4.22,11.75],[4.32,11.55],[4.42,11.35],[4.52,11.1],[4.65,10.95],[4.8,10.9],[4.95,10.95],[5.1,10.9],[5.25,10.85],[5.4,10.9],[5.55,10.95],[5.7,10.95],[5.85,11.05],[6,11.15]];
const RbPO3_PRb_270 = [[1,10],[3.15,10],[3.18,12.5],[3.21,15.3],[3.24,14.0],[3.28,12.8],[3.32,12.0],[3.37,11.0],[3.42,11.5],[3.5,11.6],[3.6,11.6],[3.7,11.7],[3.8,11.85],[3.9,11.95],[4.0,12.05],[4.1,11.95],[4.2,11.8],[4.3,11.6],[4.4,11.35],[4.5,11.15],[4.62,10.95],[4.78,10.9],[4.92,10.95],[5.08,10.9],[5.22,10.85],[5.38,10.9],[5.52,10.95],[5.68,10.95],[5.82,11.0],[6,11.15]];
const RbPO3_PRb_20 = [[1,10],[3.15,10],[3.2,12.85],[3.24,13.8],[3.27,13.0],[3.31,12.3],[3.37,11.9],[3.43,11.65],[3.5,11.6],[3.58,11.5],[3.66,11.7],[3.75,11.75],[3.83,11.85],[3.92,12.0],[4.0,12.1],[4.08,12.0],[4.18,11.85],[4.28,11.65],[4.38,11.45],[4.46,11.25],[4.55,11.05],[4.64,10.95],[4.76,10.95],[4.88,10.9],[4.99,10.95],[5.12,10.9],[5.25,10.85],[5.35,10.85],[5.48,10.9],[5.6,10.95],[5.7,10.95],[5.85,11.05],[6,11.15]];

const RbPO3_PO_305 = [[1,5],[1.3,5],[1.33,7.0],[1.36,9.5],[1.4,11.0],[1.44,14.0],[1.48,16.5],[1.5,17.6],[1.53,17.8],[1.56,17.0],[1.59,15.5],[1.63,14.0],[1.66,12.0],[1.69,11.3],[1.72,12.5],[1.74,13.1],[1.76,9.5],[1.78,5],[2.0,5],[2.4,5.05],[2.6,5.15],[2.8,5.35],[2.95,5.6],[3.1,5.8],[3.25,5.95],[3.4,6.1],[3.55,6.2],[3.7,6.35],[3.85,6.5],[3.98,6.55],[4.08,6.45],[4.2,6.2],[4.35,5.95],[4.5,5.8],[4.65,5.75],[4.8,5.8],[4.95,5.8],[5.1,5.85],[5.25,5.9],[5.4,6.0],[5.55,6.1],[5.7,6.2],[5.85,6.25],[6,6.2]];
const RbPO3_PO_270 = [[1,5],[1.29,5],[1.32,7.5],[1.35,11.5],[1.38,11.0],[1.42,13.0],[1.46,16.0],[1.5,18.0],[1.53,18.5],[1.56,16.5],[1.6,14.5],[1.64,13.0],[1.67,11.5],[1.7,12.5],[1.73,14.7],[1.76,10.0],[1.78,5],[2.0,5],[2.4,5.05],[2.62,5.15],[2.82,5.4],[2.98,5.65],[3.12,5.85],[3.28,6.0],[3.42,6.1],[3.58,6.2],[3.72,6.35],[3.86,6.5],[4.0,6.6],[4.1,6.45],[4.22,6.2],[4.38,5.95],[4.52,5.8],[4.68,5.75],[4.85,5.8],[5.0,5.8],[5.15,5.85],[5.3,5.95],[5.45,6.0],[5.6,6.1],[5.75,6.2],[5.9,6.25],[6,6.2]];
const RbPO3_PO_20 = [[1,5],[1.29,5],[1.33,6.5],[1.36,7.75],[1.39,10.0],[1.42,12.6],[1.46,17.5],[1.5,22.8],[1.53,20.5],[1.56,17.95],[1.6,16.0],[1.63,14.2],[1.66,12.5],[1.68,11.5],[1.71,9.8],[1.74,8.3],[1.79,5],[2.0,5],[2.37,5.05],[2.55,5.15],[2.73,5.3],[2.87,5.55],[3.0,5.75],[3.08,5.85],[3.22,5.9],[3.35,6.0],[3.45,6.15],[3.58,6.25],[3.7,6.35],[3.8,6.45],[3.9,6.55],[4.0,6.6],[4.1,6.45],[4.2,6.25],[4.35,6.0],[4.46,5.85],[4.57,5.75],[4.7,5.75],[4.85,5.8],[4.99,5.8],[5.12,5.85],[5.25,5.95],[5.35,6.0],[5.5,6.05],[5.65,6.15],[5.8,6.25],[5.9,6.2],[6,6.2]];

const RbPO3_PP_305 = [[1,0],[2.3,0],[2.45,0.25],[2.58,0.5],[2.7,0.8],[2.8,1.1],[2.87,1.5],[2.94,2.0],[3.0,2.6],[3.06,3.0],[3.12,3.1],[3.18,2.6],[3.24,1.9],[3.3,1.2],[3.37,0.5],[3.45,0.15],[3.55,0.2],[3.68,0.35],[3.8,0.5],[3.93,0.6],[4.06,0.8],[4.2,0.9],[4.35,1.0],[4.5,1.05],[4.65,1.1],[4.8,1.15],[4.95,1.15],[5.1,1.2],[5.25,1.15],[5.4,1.15],[5.55,1.1],[5.7,1.1],[5.85,1.05],[6,1.05]];
const RbPO3_PP_270 = [[1,0],[2.27,0],[2.4,0.2],[2.53,0.45],[2.64,0.85],[2.72,1.4],[2.79,1.7],[2.84,2.2],[2.89,2.7],[2.95,3.6],[3.0,3.2],[3.05,3.3],[3.1,3.0],[3.16,2.2],[3.22,1.0],[3.32,0.4],[3.42,0.1],[3.52,0.15],[3.62,0.3],[3.75,0.45],[3.88,0.6],[4.0,0.7],[4.12,0.85],[4.25,0.95],[4.4,1.05],[4.55,1.05],[4.7,1.15],[4.85,1.15],[5.0,1.2],[5.15,1.2],[5.3,1.15],[5.45,1.15],[5.6,1.1],[5.75,1.1],[5.9,1.0],[6,1.1]];
const RbPO3_PP_20 = [[1,0],[2.25,0],[2.37,0.2],[2.51,0.5],[2.62,0.9],[2.69,1.55],[2.76,1.85],[2.82,2.5],[2.87,2.35],[2.92,3.45],[2.96,3.75],[3.0,3.15],[3.03,3.3],[3.1,3.15],[3.16,2.0],[3.22,0.75],[3.33,0.35],[3.43,0.08],[3.5,0.15],[3.58,0.25],[3.7,0.4],[3.8,0.5],[3.93,0.6],[4.05,0.75],[4.15,0.85],[4.28,1.0],[4.4,1.0],[4.5,1.05],[4.64,1.05],[4.78,1.2],[4.9,1.15],[5.0,1.2],[5.14,1.2],[5.25,1.15],[5.35,1.2],[5.5,1.1],[5.6,1.15],[5.7,1.1],[5.85,1.0],[5.95,1.05],[6,1.1]];

// groupings (dotted, grey, solid) per pair
const LiPO3_curves = [
  [LiPO3_LiLi_390, LiPO3_LiLi_320, LiPO3_LiLi_20],
  [LiPO3_OLi_390, LiPO3_OLi_320, LiPO3_OLi_20],
  [LiPO3_OO_390, LiPO3_OO_320, LiPO3_OO_20],
  [LiPO3_PLi_390, LiPO3_PLi_320, LiPO3_PLi_20],
  [LiPO3_PO_390, LiPO3_PO_320, LiPO3_PO_20],
  [LiPO3_PP_390, LiPO3_PP_320, LiPO3_PP_20]
];
const Mixed_curves = [
  [Mixed_RbRb_290, Mixed_RbRb_240, Mixed_RbRb_20],
  [Mixed_LiRb_290, Mixed_LiRb_240, Mixed_LiRb_20],
  [Mixed_LiLi_290, Mixed_LiLi_240, Mixed_LiLi_20],
  [Mixed_ORb_290, Mixed_ORb_240, Mixed_ORb_20],
  [Mixed_OLi_290, Mixed_OLi_240, Mixed_OLi_20],
  [Mixed_OO_290, Mixed_OO_240, Mixed_OO_20],
  [Mixed_PRb_290, Mixed_PRb_240, Mixed_PRb_20],
  [Mixed_PLi_290, Mixed_PLi_240, Mixed_PLi_20],
  [Mixed_PO_290, Mixed_PO_240, Mixed_PO_20],
  [Mixed_PP_290, Mixed_PP_240, Mixed_PP_20]
];
const RbPO3_curves = [
  [RbPO3_RbRb_305, RbPO3_RbRb_270, RbPO3_RbRb_20],
  [RbPO3_ORb_305, RbPO3_ORb_270, RbPO3_ORb_20],
  [RbPO3_OO_305, RbPO3_OO_270, RbPO3_OO_20],
  [RbPO3_PRb_305, RbPO3_PRb_270, RbPO3_PRb_20],
  [RbPO3_PO_305, RbPO3_PO_270, RbPO3_PO_20],
  [RbPO3_PP_305, RbPO3_PP_270, RbPO3_PP_20]
];

// ---------------- build chart ----------------
const SERIF = "'Liberation Serif','DejaVu Serif',serif";
const SANS = "'Liberation Sans',Arial,sans-serif";
const STYLES = [
  {color:'#111', width:2.1, type:[1.6,2.2]},      // dotted (high T)
  {color:'#a9a9a9', width:2.6, type:[9,4,2,4]},   // grey dash-dot (mid T)
  {color:'#111', width:1.8, type:'solid'}          // solid (20)
];
const DRAW_ORDER = [2,1,0];

const panels = [
  {curves:LiPO3_curves, pairs:LiPO3_pairs, temps:LiPO3_temps, labelY:LiPO3_labelY, yMax:29, yTicks:yTicksLiPO3, top:6},
  {curves:Mixed_curves, pairs:Mixed_pairs, temps:Mixed_temps, labelY:Mixed_labelY, yMax:55, yTicks:yTicksMixed, top:459},
  {curves:RbPO3_curves, pairs:RbPO3_pairs, temps:RbPO3_temps, labelY:RbPO3_labelY, yMax:30, yTicks:yTicksRbPO3, top:914}
];

const grids = [], xAxes = [], yAxes = [], series = [], legends = [];
const legendTops = [13, 488, 938];
panels.forEach((p, gi) => {
  grids.push({left:104, right:11, top:p.top, height:372});
  xAxes.push({
    type:'value', gridIndex:gi, min:1, max:6, interval:0.5,
    axisLine:{lineStyle:{color:'#333', width:1.3}},
    axisTick:{inside:true, length:5, lineStyle:{color:'#333', width:1}},
    splitLine:{show:false},
    axisLabel:{margin:11, fontFamily:SANS, fontSize:21, color:'#222',
      formatter:v => xTicks.includes(v) ? String(v) : ''}
  });
  yAxes.push({
    type:'value', gridIndex:gi, min:0, max:p.yMax, interval:5,
    axisLine:{show:true, lineStyle:{color:'#333', width:1.3}},
    axisTick:{show:true, inside:true, length:4, lineStyle:{color:'#333', width:1}, customValues:p.yTicks},
    splitLine:{show:false},
    axisLabel:{margin:21, fontFamily:SANS, fontSize:21, color:'#222', customValues:p.yTicks}
  });
  p.curves.forEach(triple => {
    DRAW_ORDER.forEach(k => {
      series.push({
        type:'line', name:p.temps[k], xAxisIndex:gi, yAxisIndex:gi,
        data:triple[k], symbol:'none', showSymbol:false, clip:true,
        lineStyle:STYLES[k], itemStyle:{color:STYLES[k].color},
        silent:true, animation:false
      });
    });
  });
  series.push({
    type:'scatter', xAxisIndex:gi, yAxisIndex:gi, symbolSize:1, silent:true,
    itemStyle:{color:'rgba(0,0,0,0)'}, z:5,
    data:p.pairs.map((name,i) => [5.97, p.labelY[i], name]),
    label:{show:true, position:'left', distance:2, formatter:q => q.value[2],
      fontFamily:SERIF, fontSize:16, color:'#222'}
  });
  legends.push({
    orient:'vertical', left:424, top:legendTops[gi], data:p.temps,
    itemWidth:30, itemHeight:12, itemGap:4, padding:[4,3,4,4],
    backgroundColor:'#fff', borderColor:'#222', borderWidth:1,
    selectedMode:false,
    itemStyle:{opacity:0, borderWidth:0},
    textStyle:{fontFamily:SANS, fontSize:17, color:'#111', lineHeight:14, padding:[0,0,0,6]}
  });
});

const yTitleRich = {
  g:{fontFamily:SERIF, fontSize:26, fill:'#222', lineHeight:34},
  s:{fontFamily:SERIF, fontSize:15, fontStyle:'italic', fill:'#222', verticalAlign:'bottom', lineHeight:20}
};
const subRich = (main, sub) => ({
  m:{fontFamily:SERIF, fontSize:main, fill:'#222', lineHeight:main+8},
  s:{fontFamily:SERIF, fontSize:sub, fill:'#222', verticalAlign:'bottom', lineHeight:sub+4}
});

const graphic = [
  {type:'text', x:26, y:191, rotation:Math.PI/2, style:{text:'{g|g}{s|α-β}{g|(R)}', rich:yTitleRich, align:'center', verticalAlign:'middle'}},
  {type:'text', x:26, y:640, rotation:Math.PI/2, style:{text:'{g|g}{s|α-β}{g|(R)}', rich:yTitleRich, align:'center', verticalAlign:'middle'}},
  {type:'text', x:26, y:1095, rotation:Math.PI/2, style:{text:'{g|g}{s|α-β}{g|(R)}', rich:yTitleRich, align:'center', verticalAlign:'middle'}},
  {type:'text', x:127, y:37, style:{text:'{m|LiPO}{s|3}', rich:subRich(26,15), align:'left', verticalAlign:'middle'}},
  {type:'text', x:135, y:495, style:{text:'{m|Li}{s|0.5}{m|Rb}{s|0.5}{m|PO}{s|3}', rich:subRich(23,14), align:'left', verticalAlign:'middle'}},
  {type:'text', x:127, y:942, style:{text:'{m|RbPO}{s|3}', rich:subRich(26,15), align:'left', verticalAlign:'middle'}},
  {type:'text', x:338, y:1350, style:{text:'R [Å]', fontFamily:SERIF, fontSize:26, fill:'#222', align:'center', verticalAlign:'middle'}}
];

const chart = echarts.init(document.getElementById('c'), null, {renderer:'canvas'});
chart.setOption({
  backgroundColor:'#fff', animation:false,
  grid:grids, xAxis:xAxes, yAxis:yAxes, series:series, legend:legends, graphic:graphic
});
</script></body></html>
